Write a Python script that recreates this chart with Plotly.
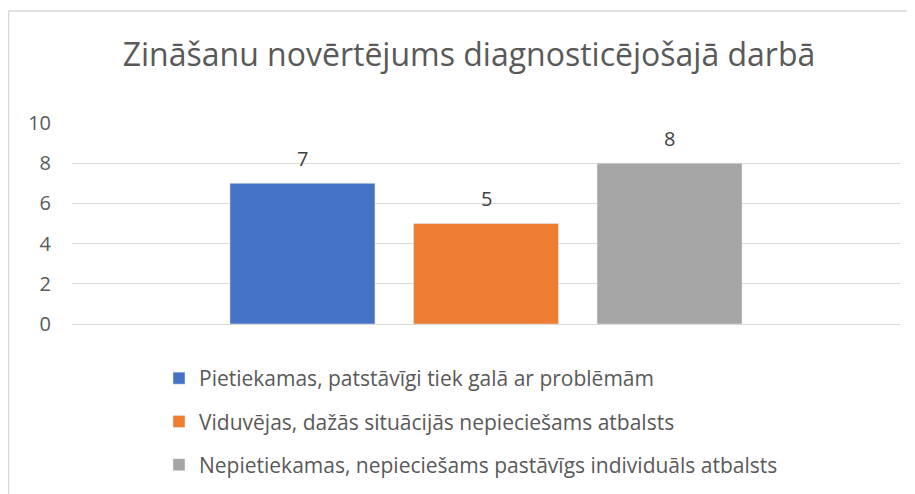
import plotly.graph_objects as go

title = "Zināšanu novērtējums diagnosticējošajā darbā"
series_names = [
    "Pietiekamas, patstāvīgi tiek galā ar problēmām",
    "Viduvējas, dažās situācijās nepieciešams atbalsts",
    "Nepietiekamas, nepieciešams pastāvīgs individuāls atbalsts",
]
values = [7, 5, 8]
colors = ["#4472C4", "#ED7D31", "#A5A5A5"]
category = [0]
y_ticks = [0, 2, 4, 6, 8, 10]

FONT = "Open Sans"
BARGAP = 0.335
BARGROUPGAP = 0.21

fig = go.Figure()
for i, (name, v, c) in enumerate(zip(series_names, values, colors)):
    fig.add_trace(go.Bar(
        x=category, y=[v], name=name, marker_color=c,
        legendgroup=f"g{i}", hoverinfo="name+y",
    ))

# value labels above each grouped bar (position derived from bar layout)
n = len(values)
slot = (1 - BARGAP) / n
annotations = []
for i, v in enumerate(values):
    annotations.append(dict(
        x=category[0] + (i - (n - 1) / 2) * slot, y=v, xref="x", yref="y",
        text=str(v), showarrow=False, yanchor="middle", yshift=25,
        font=dict(family=FONT, size=20, color="#404040"),
    ))

W, H = 907, 486
ml, mr, mt, mb = 64, 15, 115, 170
pw = W - ml - mr
ph = H - mt - mb

fig.update_layout(
    width=W, height=H,
    margin=dict(l=ml, r=mr, t=mt, b=mb),
    paper_bgcolor="white", plot_bgcolor="white",
    barmode="group", bargap=BARGAP, bargroupgap=BARGROUPGAP,
    title=dict(text=title, x=(461 - ml) / pw, xref="paper", xanchor="center",
               y=1 - 47 / H, yanchor="middle",
               font=dict(family=FONT, size=32, color="#595959")),
    yaxis=dict(range=[0, 10], tickvals=y_ticks, showgrid=True, gridcolor="#D9D9D9",
               gridwidth=1, zeroline=True, zerolinecolor="#D9D9D9", zerolinewidth=1,
               showline=False, ticks="", ticklen=0, ticklabelstandoff=20,
               tickfont=dict(family=FONT, size=20, color="#595959")),
    xaxis=dict(range=[-0.5, 0.5], showticklabels=False, showgrid=False,
               zeroline=False, showline=False),
    legend=dict(orientation="v", x=(151 - ml) / pw, xanchor="left",
                yref="container", y=1 - 350 / H, yanchor="top",
                tracegroupgap=13, traceorder="grouped",
                font=dict(family=FONT, size=21, color="#595959")),
    showlegend=True,
    annotations=annotations,
    shapes=[dict(type="rect", xref="paper", yref="paper",
                 x0=(0.5 - ml) / pw, x1=1.5, y0=-2, y1=(mt + ph - 3) / ph,
                 line=dict(color="#D9D9D9", width=1.5), fillcolor="rgba(0,0,0,0)",
                 layer="below")],
)
fig.write_html("out.html")
